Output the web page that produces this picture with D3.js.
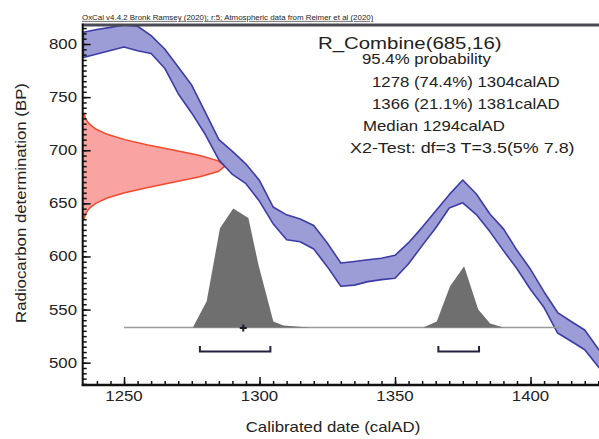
<!DOCTYPE html>
<html><head><meta charset="utf-8">
<script src="https://cdn.jsdelivr.net/npm/d3@7"></script>
<style>body{margin:0;background:#fff}svg{display:block}text{font-family:"Liberation Sans",Arial,sans-serif;fill:#222}</style>
</head><body><svg id="c" width="599" height="439"></svg>
<script>
// ---- data ----
const curveYears = [1235,1240,1245,1250,1255,1260,1265,1270,1275,1280,1285,1290,1295,1300,1305,1310,1315,1320,1325,1330,1335,1340,1345,1350,1355,1360,1365,1370,1375,1380,1385,1390,1395,1400,1405,1410,1415,1420,1425,1430];
const curveUpperBP = [811.0,813.6,815.7,817.9,816.7,807.9,795.3,778.3,761.1,735.7,710.0,699.0,687.0,671.4,646.6,639.2,635.3,629.2,612.7,593.8,595.3,596.9,598.3,601.1,613.0,627.4,642.8,658.2,672.0,658.8,640.0,626.0,605.8,587.9,566.6,547.2,538.8,530.8,512.9,497.9];
const curveLowerBP = [787.3,790.6,793.9,797.2,793.6,791.1,777.2,753.2,734.9,714.8,690.9,677.2,668.5,651.9,630.9,615.7,613.9,607.1,590.4,572.0,573.0,576.3,578.2,579.5,593.2,610.2,626.8,645.6,650.5,639.4,623.4,605.5,588.4,568.9,551.9,527.9,520.2,512.2,496.2,482.6];

const measBP   = [735,730,725,720,715,710,705,700,695,690,685,680,675,670,665,660,655,650,645,640,635];
const measProb = [0.008,0.019,0.044,0.091,0.172,0.295,0.458,0.645,0.823,0.952,1,0.952,0.823,0.645,0.458,0.295,0.172,0.091,0.044,0.019,0.008];

const calYears = [1275.4,1280.5,1285.4,1290.3,1295.9,1299.6,1305.1,1308.8,1318.6,1360.4,1365.4,1370.3,1375.5,1380.7,1385.1,1390.0];
const calProb  = [0,0.22,0.835,1.0,0.92,0.527,0.05,0.017,0,0,0.05,0.346,0.515,0.152,0.034,0];

const rangeStart = [1278,1366];
const rangeEnd   = [1304,1381];
const medianYear = 1294;
const baselineYears = [1250,1411];

const xTickValues = [1250,1300,1350,1400];
const yTickValues = [500,550,600,650,700,750,800];
const headerText = "OxCal v4.4.2 Bronk Ramsey (2020); r:5; Atmospheric data from Reimer et al (2020)";
const infoLines = ["R_Combine(685,16)","95.4% probability","1278 (74.4%) 1304calAD","1366 (21.1%) 1381calAD","Median 1294calAD","X2-Test: df=3 T=3.5(5% 7.8)"];
const xTitle = "Calibrated date (calAD)";
const yTitle = "Radiocarbon determination (BP)";

// ---- layout ----
const L=82.7, T=25, B=385;
const x = d3.scaleLinear().domain([1234.75,1432]).range([L, L+(1432-1234.75)*2.71]);
const y = d3.scaleLinear().domain([479,817.9]).range([B,T]);
const base = 327.5;
const pScale = d3.scaleLinear().domain([0,1]).range([base, base-119]);
const wScale = d3.scaleLinear().domain([0,1]).range([L, 225]);

const svg = d3.select("#c");
svg.append("rect").attr("width",599).attr("height",439).attr("fill","#fff");
svg.append("defs").append("clipPath").attr("id","clip")
  .append("rect").attr("x",L).attr("y",T).attr("width",620-L).attr("height",B-T);
const plot = svg.append("g").attr("clip-path","url(#clip)");

function stext(parent, px, py, s, size, anchor, sx){
  return parent.append("text")
    .attr("transform",`translate(${px},${py}) scale(${sx||1.2},1)`)
    .attr("font-size",size).attr("text-anchor",anchor||"start").text(s);
}

// measured normal distribution (red)
const meas = measBP.map((b,i)=>({b, p:measProb[i]}));
plot.append("path").datum(meas)
  .attr("d", d3.area().y(d=>y(d.b)).x0(L).x1(d=>wScale(d.p)))
  .attr("fill","#f9a3a3");
plot.append("path").datum(meas)
  .attr("d", d3.line().y(d=>y(d.b)).x(d=>wScale(d.p)))
  .attr("fill","none").attr("stroke","#f24a2a").attr("stroke-width",1.5);

// calibration curve band
const curve = curveYears.map((yr,i)=>({yr, hi:curveUpperBP[i], lo:curveLowerBP[i]}));
plot.append("path").datum(curve)
  .attr("d", d3.area().x(d=>x(d.yr)).y0(d=>y(d.lo)).y1(d=>y(d.hi)))
  .attr("fill","#9c9cd6").attr("stroke","#3c3ca6").attr("stroke-width",1.6).attr("stroke-linejoin","round");

// calibrated distribution baseline + area
plot.append("line").attr("x1",x(baselineYears[0])).attr("x2",x(baselineYears[1]))
  .attr("y1",base).attr("y2",base).attr("stroke","#9a9a9a").attr("stroke-width",1.5);
const cal = calYears.map((yr,i)=>({yr, p:calProb[i]}));
plot.append("path").datum(cal)
  .attr("d", d3.area().x(d=>x(d.yr)).y0(base).y1(d=>pScale(d.p)))
  .attr("fill","#6f6f6f");

// median cross
const mx = x(medianYear);
plot.append("path").attr("d",`M${mx-3.5},${base+0.5}H${mx+3.5}M${mx},${base-3}V${base+4}`)
  .attr("stroke","#1a1a2a").attr("stroke-width",2);

// range brackets
const by = 351.5;
rangeStart.forEach((s,i)=>{
  const a=x(s), b=x(rangeEnd[i]);
  plot.append("path").attr("d",`M${a},${by-5.5}V${by}H${b}V${by-5.5}`)
    .attr("fill","none").attr("stroke","#22223a").attr("stroke-width",2);
});

// axes ticks (inward)
const minorX = d3.range(1240,1431,5);
const minorY = d3.range(480,818,5);
const gx = svg.append("g").attr("transform",`translate(0,${B})`);
gx.call(d3.axisBottom(x).tickValues(minorX).tickSize(-4).tickFormat(""));
gx.call(g=>g.select(".domain").remove());
const gx2 = svg.append("g").attr("transform",`translate(0,${B})`);
gx2.call(d3.axisBottom(x).tickValues(xTickValues).tickSize(-8).tickFormat(""));
gx2.call(g=>g.select(".domain").remove());
const gy = svg.append("g").attr("transform",`translate(${L},0)`);
gy.call(d3.axisLeft(y).tickValues(minorY).tickSize(-4).tickFormat(""));
gy.call(g=>g.select(".domain").remove());
const gy2 = svg.append("g").attr("transform",`translate(${L},0)`);
gy2.call(d3.axisLeft(y).tickValues(yTickValues).tickSize(-8).tickFormat(""));
gy2.call(g=>g.select(".domain").remove());
svg.selectAll(".tick line").attr("stroke","#111").attr("stroke-width",1.5);

// frame
svg.append("line").attr("x1",L).attr("x2",599).attr("y1",T).attr("y2",T).attr("stroke","#4a4a55").attr("stroke-width",3);
svg.append("line").attr("x1",L).attr("x2",L).attr("y1",T-1.5).attr("y2",B+1).attr("stroke","#111").attr("stroke-width",2);
svg.append("line").attr("x1",L-1).attr("x2",599).attr("y1",B).attr("y2",B).attr("stroke","#111").attr("stroke-width",2.5);

// tick labels
xTickValues.forEach(v=>stext(svg, x(v), 401, String(v), 14, "middle").attr("fill","#333"));
yTickValues.forEach(v=>stext(svg, 77, y(v)+5, String(v), 14, "end").attr("fill","#333"));

// titles
stext(svg, 333, 432, xTitle, 14, "middle").attr("fill","#333");
svg.append("text").attr("transform","translate(26,203) rotate(-90) scale(1.2,1)")
  .attr("font-size",14).attr("text-anchor","middle").attr("fill","#333").text(yTitle);

// header
stext(svg, 82, 20, headerText, 6.6, "start").attr("fill","#333").style("text-decoration","underline");

// info text
const infoX = [318,362,372,372,363,350];
const infoY = [49,64,87,109,131,153];
const infoSize = [17,14,14,14,14,14];
const infoSx = [1.2,1.2,1.2,1.2,1.2,1.28];
infoLines.forEach((s,i)=>stext(svg, infoX[i], infoY[i], s, infoSize[i], "start", infoSx[i]));
</script></body></html>
